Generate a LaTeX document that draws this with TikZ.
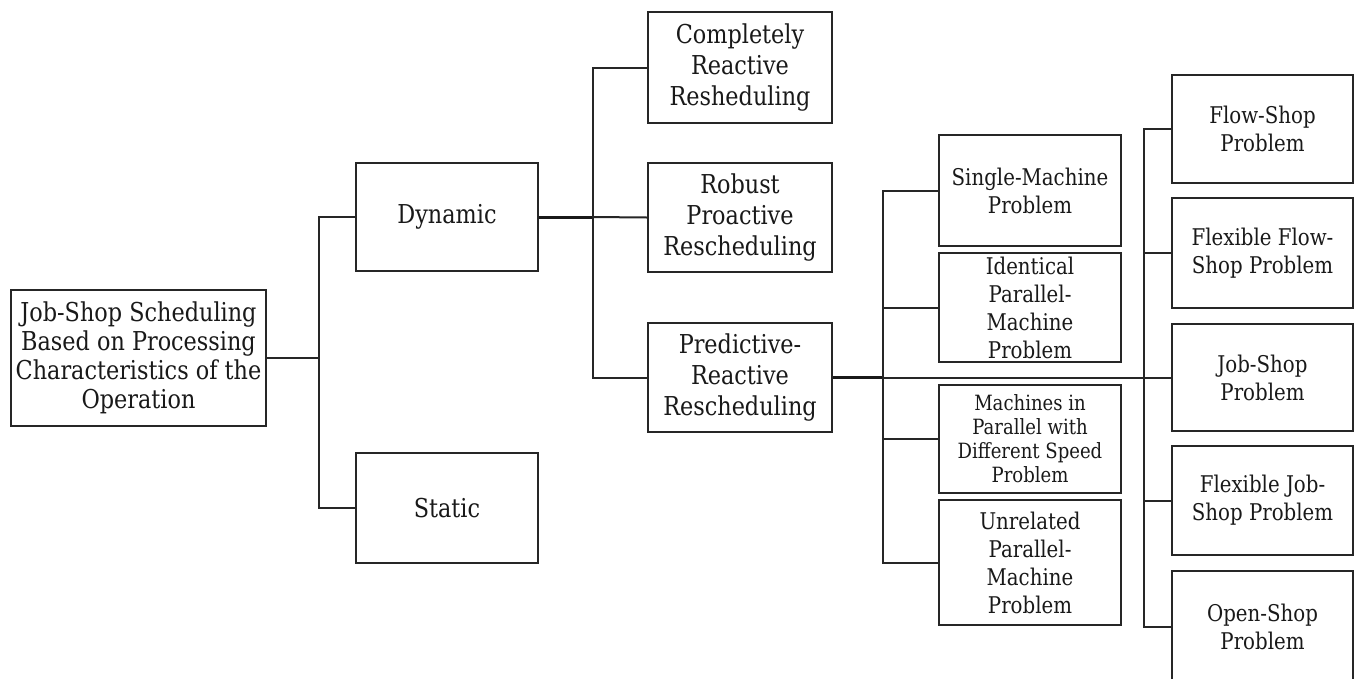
\documentclass[tikz,border=0pt]{standalone}
\usepackage{fontspec}
\setmainfont{DejaVu Serif}[FakeStretch=0.86]
\begin{document}
\begin{tikzpicture}[x=1pt,y=-1pt,
  box/.style={draw=black!85, line width=2pt, align=center, inner sep=0pt, text=black!90},
  big/.style={font=\fontsize{26}{29}\selectfont},
  bigx/.style={font=\fontsize{26}{31}\selectfont},
  mid/.style={font=\fontsize{23}{28}\selectfont},
  small/.style={font=\fontsize{21}{24}\selectfont},
  link/.style={draw=black!85, line width=2pt},
  trunk/.style={draw=black!90, line width=3pt}]
\clip (0,0) rectangle (1355,678);
\fill[white] (0,0) rectangle (1355,678);

% bus lines
\coordinate (b1) at (319,0);
\coordinate (b2) at (593,0);
\coordinate (b3) at (883,0);
\coordinate (b4) at (1144,0);

% level 0
\node[box,big,minimum width=255pt,minimum height=136pt] (root) at (138.5,358)
  {Job-Shop Scheduling\\Based on Processing\\Characteristics of the\\Operation};

% level 1
\node[box,big,minimum width=182pt,minimum height=108pt] (dyn) at (447,217) {Dynamic};
\node[box,big,minimum width=182pt,minimum height=110pt] (static) at (447,508) {Static};

% level 2
\node[box,bigx,minimum width=184pt,minimum height=111pt] (comp) at (740,67.5) {Completely\\Reactive\\Resheduling};
\node[box,bigx,minimum width=184pt,minimum height=109pt] (rob) at (740,217.5) {Robust\\Proactive\\Rescheduling};
\node[box,bigx,minimum width=184pt,minimum height=109pt] (pred) at (740,377.5) {Predictive-\\Reactive\\Rescheduling};

% machine environments
\node[box,mid,minimum width=182pt,minimum height=111pt] (single) at (1030,190.5) {Single-Machine\\Problem};
\node[box,mid,minimum width=182pt,minimum height=109pt] (ident) at (1030,307.5) {Identical\\Parallel-\\Machine\\Problem};
\node[box,small,minimum width=182pt,minimum height=108pt] (mach) at (1030,439) {Machines in\\Parallel with\\Different Speed\\Problem};
\node[box,mid,minimum width=182pt,minimum height=125pt] (unrel) at (1030,562.5) {Unrelated\\Parallel-\\Machine\\Problem};

% shop problems
\node[box,mid,minimum width=181pt,minimum height=108pt] (flow) at (1262.5,129) {Flow-Shop\\Problem};
\node[box,mid,minimum width=181pt,minimum height=110pt] (fflow) at (1262.5,253) {Flexible Flow-\\Shop Problem};
\node[box,mid,minimum width=181pt,minimum height=107pt] (job) at (1262.5,377.5) {Job-Shop\\Problem};
\node[box,mid,minimum width=181pt,minimum height=109pt] (fjob) at (1262.5,500.5) {Flexible Job-\\Shop Problem};
\node[box,mid,minimum width=181pt,minimum height=112pt] (open) at (1262.5,627) {Open-Shop\\Problem};

% connectors
\draw[link] (root.east) -- (root.east -| b1);
\draw[link] (dyn.west) -- (dyn.west -| b1) -- (static.west -| b1) -- (static.west);

\draw[trunk] (dyn.east) -- (dyn.east -| b2);
\draw[link] (dyn.east -| b2) -- (rob.west);
\draw[link] (comp.west) -- (comp.west -| b2) -- (pred.west -| b2) -- (pred.west);

\draw[trunk] (pred.east) -- (pred.east -| b3);
\draw[link] (pred.east -| b3) -- (job.west);
\draw[link] (single.west) -- (single.west -| b3) -- (unrel.west -| b3) -- (unrel.west);
\draw[link] (ident.west -| b3) -- (ident.west);
\draw[link] (mach.west -| b3) -- (mach.west);

\draw[link] (flow.west) -- (flow.west -| b4) -- (open.west -| b4) -- (open.west);
\draw[link] (fflow.west -| b4) -- (fflow.west);
\draw[link] (fjob.west -| b4) -- (fjob.west);
\end{tikzpicture}
\end{document}
